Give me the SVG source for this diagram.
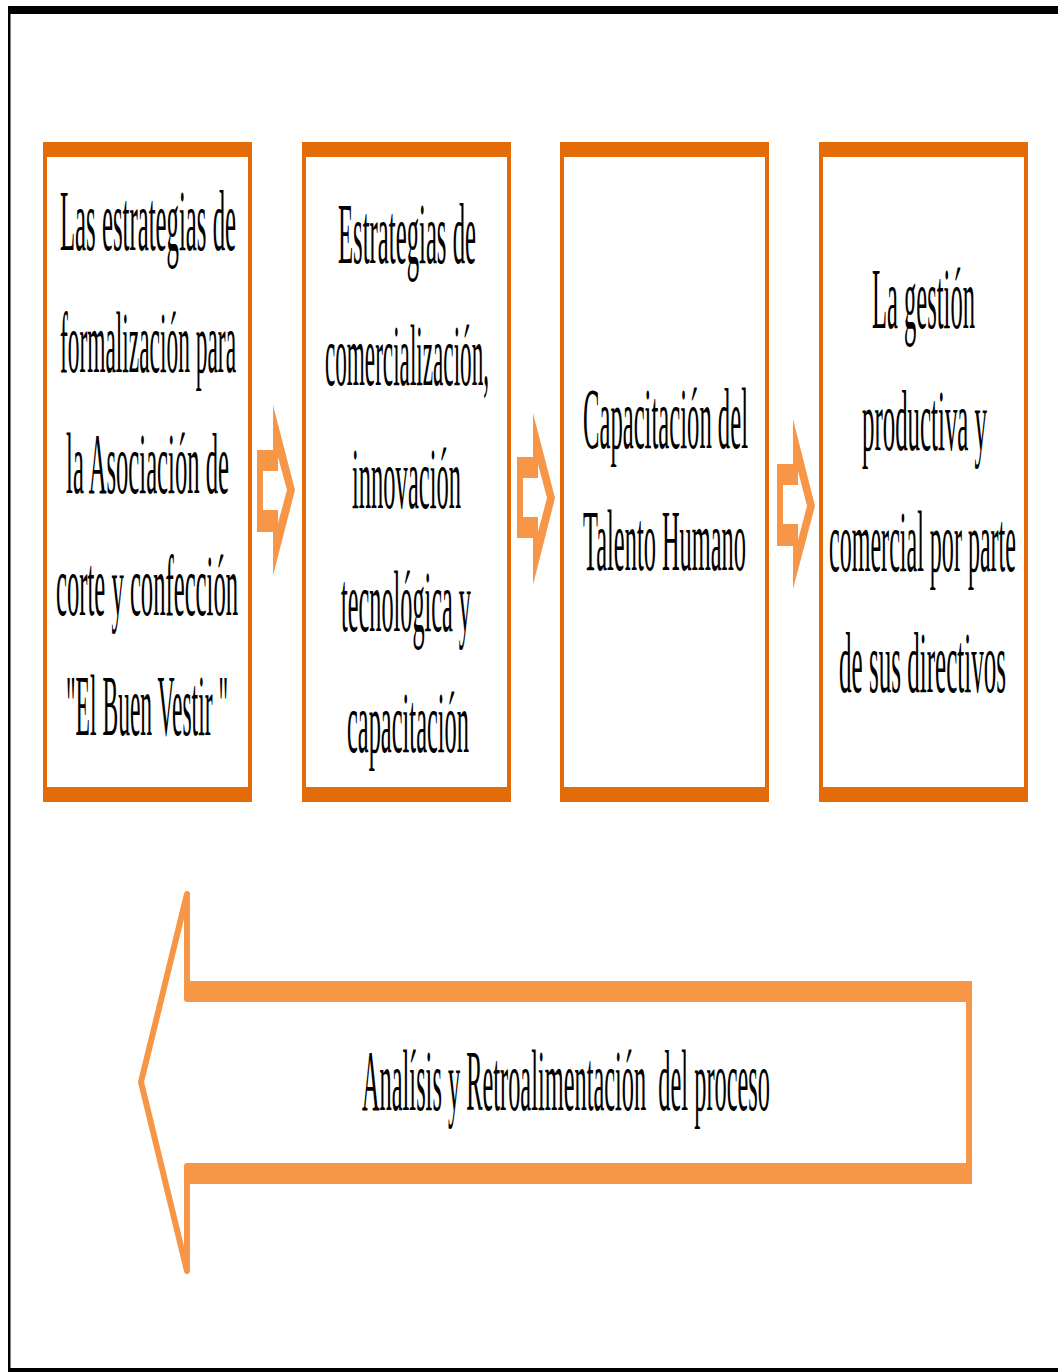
<svg xmlns="http://www.w3.org/2000/svg" width="1058" height="1372" viewBox="0 0 1058 1372">
<style>
.box-side{fill:none;stroke:#E36C09;stroke-width:4}
.box-bar{fill:#E36C09}
.t{font-family:"Liberation Serif","Times New Roman",serif;font-size:86px;fill:#000;text-anchor:middle;white-space:pre}
.arr{fill:#F79646;fill-rule:evenodd}
</style>
<rect width="1058" height="1372" fill="#fff"/>
<g id="frame">
<rect x="8" y="6" width="1050" height="8" fill="#000"/>
<rect x="8" y="6" width="2.5" height="1366" fill="#000"/>
<rect x="8" y="1368" width="1050" height="4" fill="#000"/>
</g>
<g id="node1">
<rect class="box-side" x="45" y="144" width="205" height="656"/>
<rect class="box-bar" x="43" y="142" width="209" height="15"/>
<rect class="box-bar" x="43" y="787" width="209" height="15"/>
<text class="t" transform="translate(148,250) scale(0.3,1)" textLength="587" lengthAdjust="spacingAndGlyphs">Las estrategias de</text>
<text class="t" transform="translate(148,372) scale(0.3,1)" textLength="587" lengthAdjust="spacingAndGlyphs">formalización para</text>
<text class="t" transform="translate(147.5,493) scale(0.3,1)" textLength="543" lengthAdjust="spacingAndGlyphs">la Asociación de</text>
<text class="t" transform="translate(147,615) scale(0.3,1)" textLength="607" lengthAdjust="spacingAndGlyphs">corte y confección</text>
<text class="t" transform="translate(147,735) scale(0.3,1)" textLength="540" lengthAdjust="spacingAndGlyphs">"El Buen Vestir "</text>
</g>
<g id="node2">
<rect class="box-side" x="304" y="144" width="205" height="656"/>
<rect class="box-bar" x="302" y="142" width="209" height="15"/>
<rect class="box-bar" x="302" y="787" width="209" height="15"/>
<text class="t" transform="translate(407,263) scale(0.3,1)" textLength="460" lengthAdjust="spacingAndGlyphs">Estrategias de</text>
<text class="t" transform="translate(407,385) scale(0.3,1)" textLength="547" lengthAdjust="spacingAndGlyphs">comercialización,</text>
<text class="t" transform="translate(406.5,508) scale(0.3,1)" textLength="363" lengthAdjust="spacingAndGlyphs">innovación</text>
<text class="t" transform="translate(406,631) scale(0.3,1)" textLength="433" lengthAdjust="spacingAndGlyphs">tecnológica y</text>
<text class="t" transform="translate(408,752) scale(0.3,1)" textLength="407" lengthAdjust="spacingAndGlyphs">capacitación</text>
</g>
<g id="node3">
<rect class="box-side" x="562" y="144" width="205" height="656"/>
<rect class="box-bar" x="560" y="142" width="209" height="15"/>
<rect class="box-bar" x="560" y="787" width="209" height="15"/>
<text class="t" transform="translate(665.5,448) scale(0.3,1)" textLength="550" lengthAdjust="spacingAndGlyphs">Capacitación del</text>
<text class="t" transform="translate(664.5,570) scale(0.3,1)" textLength="543" lengthAdjust="spacingAndGlyphs">Talento Humano</text>
</g>
<g id="node4">
<rect class="box-side" x="821" y="144" width="205" height="656"/>
<rect class="box-bar" x="819" y="142" width="209" height="15"/>
<rect class="box-bar" x="819" y="787" width="209" height="15"/>
<text class="t" transform="translate(923.5,328) scale(0.3,1)" textLength="343" lengthAdjust="spacingAndGlyphs">La gestión</text>
<text class="t" transform="translate(924.5,450) scale(0.3,1)" textLength="417" lengthAdjust="spacingAndGlyphs">productiva y</text>
<text class="t" transform="translate(922.5,571) scale(0.3,1)" textLength="623" lengthAdjust="spacingAndGlyphs">comercial por parte</text>
<text class="t" transform="translate(922.5,692) scale(0.3,1)" textLength="557" lengthAdjust="spacingAndGlyphs">de sus directivos</text>
</g>
<g id="connectors">
<path class="arr" d="M257,450 L273,450 L273,405 L295,490 L273,576 L273,532 L257,532 Z M263,471 L278,471 L278,457 L287,490 L278,523 L278,510 L263,510 Z"/>
<path class="arr" d="M517,457 L533,457 L533,413 L555,498 L533,585 L533,538 L517,538 Z M523,478 L538,478 L538,464 L547,498 L538,532 L538,517 L523,517 Z"/>
<path class="arr" d="M777,464 L793,464 L793,419 L815,506 L793,589 L793,546 L777,546 Z M783,485 L798,485 L798,471 L807,506 L798,540 L798,524 L783,524 Z"/>
</g>
<g id="feedback">
<path d="M187,990 L187,894 L141,1082 L187,1271 L187,1175" fill="none" stroke="#F79646" stroke-width="6" stroke-linejoin="round" stroke-linecap="round"/>
<rect x="184" y="981" width="788" height="21" rx="3" fill="#F79646"/>
<rect x="184" y="1163" width="788" height="21" rx="3" fill="#F79646"/>
<rect x="966" y="981" width="6" height="203" fill="#F79646"/>
<text class="t" transform="translate(566,1110) scale(0.3,1)" textLength="1360" lengthAdjust="spacingAndGlyphs">Analísis y Retroalimentación  del proceso</text>
</g>
</svg>
